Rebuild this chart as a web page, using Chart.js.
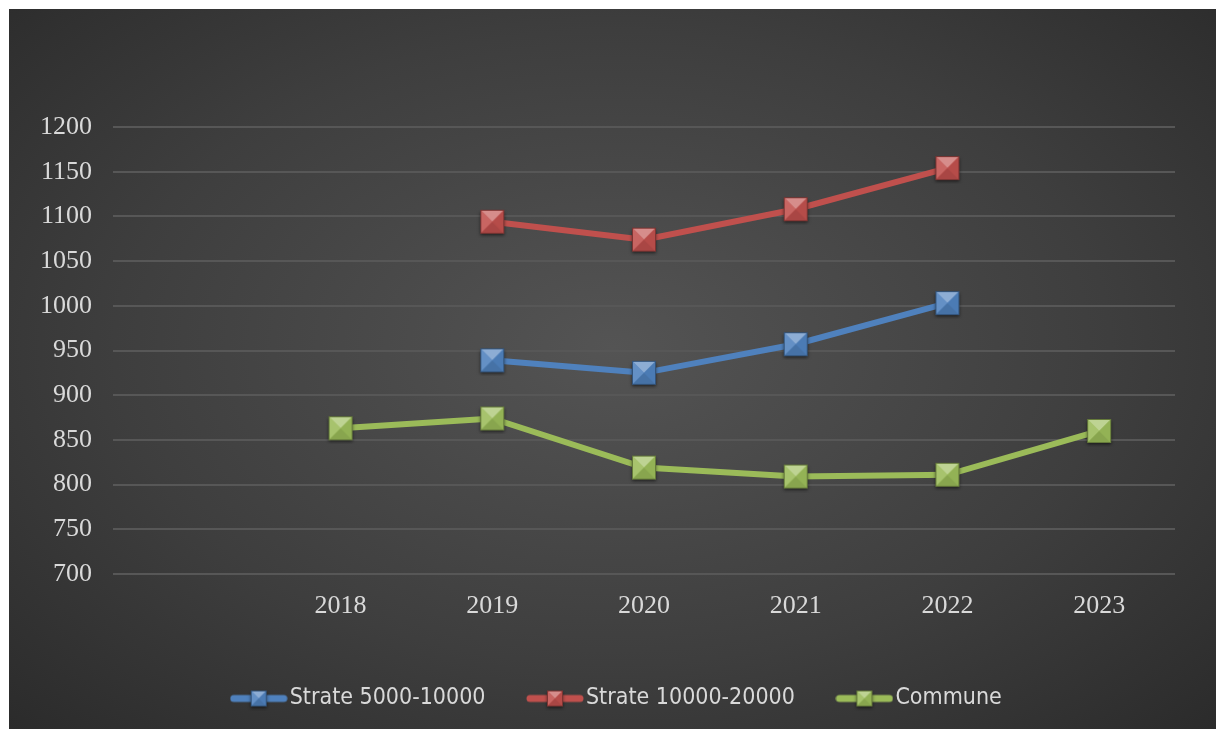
<!DOCTYPE html>
<html>
<head>
<meta charset="utf-8">
<script src="https://cdn.jsdelivr.net/npm/chart.js@4"></script>
<style>
  html, body { margin: 0; padding: 0; background: #fff; }
  #wrap {
    position: absolute; left: 9px; top: 9px; width: 1207px; height: 720px;
    background: radial-gradient(ellipse 75% 80% at 50% 47%, #545454 0%, #3e3e3e 55%, #282828 100%);
  }
</style>
</head>
<body>
<div id="wrap"><canvas id="chart" width="1207" height="720"></canvas></div>
<script>
// --- Data ---
const years = ['', '2018', '2019', '2020', '2021', '2022', '2023'];
const strate5000 = [null, null, 939, 925, 957, 1003, null];
const strate10000 = [null, null, 1094, 1074, 1108, 1154, null];
const commune = [null, 863, 874, 819, 809, 811, 860];
const seriesNames = ['Strate 5000-10000', 'Strate 10000-20000', 'Commune'];
const yMin = 700, yMax = 1200, yStep = 50;

const colors = ['#4f81bd', '#c0504d', '#9bbb59'];
const labelColor = '#d9d9d9';

// --- Bevel markers ---
function shade(hex, f) {
    const n = parseInt(hex.slice(1), 16);
    let rgb = [n >> 16, (n >> 8) & 255, n & 255];
    rgb = rgb.map(v => f > 0 ? v + (255 - v) * f : v * (1 + f));
    return `rgb(${rgb.map(v => Math.round(v)).join(',')})`;
}

function marker(color, size, lineW) {
    const w = lineW || size + 8, h = size + 8;
    const c = document.createElement('canvas');
    c.width = w; c.height = h;
    const g = c.getContext('2d');
    const cx = w / 2, cy = h / 2, s = size / 2;
    if (lineW) {
        g.strokeStyle = color; g.lineWidth = 7; g.lineCap = 'round';
        g.beginPath(); g.moveTo(4, cy); g.lineTo(w - 4, cy); g.stroke();
    }
    const x0 = cx - s, y0 = cy - s, x1 = cx + s, y1 = cy + s;
    g.save();
    g.shadowColor = 'rgba(0,0,0,0.55)'; g.shadowBlur = 3; g.shadowOffsetY = 1.5;
    g.fillStyle = color; g.fillRect(x0, y0, size, size);
    g.restore();
    const tri = (pts, fill) => {
        g.fillStyle = fill; g.beginPath();
        g.moveTo(pts[0], pts[1]); g.lineTo(pts[2], pts[3]); g.lineTo(cx, cy);
        g.closePath(); g.fill();
    };
    tri([x0, y0, x1, y0], shade(color, 0.35));
    tri([x0, y0, x0, y1], shade(color, 0.12));
    tri([x1, y0, x1, y1], shade(color, -0.05));
    tri([x0, y1, x1, y1], shade(color, -0.12));
    g.strokeStyle = shade(color, -0.35); g.lineWidth = 1;
    g.strokeRect(x0 + 0.5, y0 + 0.5, size - 1, size - 1);
    return c;
}

const pointIcons = colors.map(c => marker(c, 24));
const legendIcons = colors.map(c => marker(c, 16, 58));

// --- Chart ---
const ctx = document.getElementById('chart').getContext('2d');
const values = [strate5000, strate10000, commune];

new Chart(ctx, {
    type: 'line',
    data: {
        labels: years,
        datasets: values.map((v, i) => ({
            label: seriesNames[i],
            data: v,
            borderColor: colors[i],
            backgroundColor: colors[i],
            borderWidth: 6,
            pointStyle: pointIcons[i],
            spanGaps: false,
            tension: 0
        }))
    },
    options: {
        responsive: false,
        animation: false,
        devicePixelRatio: 1,
        events: [],
        layout: { padding: { left: 16, right: 0, top: 118, bottom: 9 } },
        scales: {
            x: {
                offset: true,
                grid: { display: false },
                border: { display: false },
                ticks: { color: labelColor, padding: 9, font: { family: 'Liberation Serif', size: 26 } },
                afterFit: s => { s.height = 63; }
            },
            y: {
                min: yMin, max: yMax,
                grid: { color: '#575757', lineWidth: 2, drawTicks: false },
                border: { display: false },
                ticks: {
                    stepSize: yStep, color: labelColor, padding: 21,
                    font: { family: 'Liberation Serif', size: 26 },
                    callback: v => String(v)
                },
                afterFit: s => { s.width = 88; }
            },
            // empty right margin
            y2: {
                position: 'right',
                grid: { display: false },
                border: { display: false },
                ticks: { display: false },
                afterFit: s => { s.width = 41; }
            }
        },
        plugins: {
            tooltip: { enabled: false },
            legend: {
                position: 'bottom',
                labels: {
                    usePointStyle: true,
                    pointStyleWidth: 39,
                    padding: 50,
                    color: labelColor,
                    font: { family: "'DejaVu Sans Condensed', 'DejaVu Sans'", size: 23 },
                    generateLabels(chart) {
                        const items = Chart.defaults.plugins.legend.labels.generateLabels(chart);
                        items.forEach((it, i) => { it.pointStyle = legendIcons[i]; });
                        return items;
                    }
                }
            }
        }
    }
});
</script>
</body>
</html>
